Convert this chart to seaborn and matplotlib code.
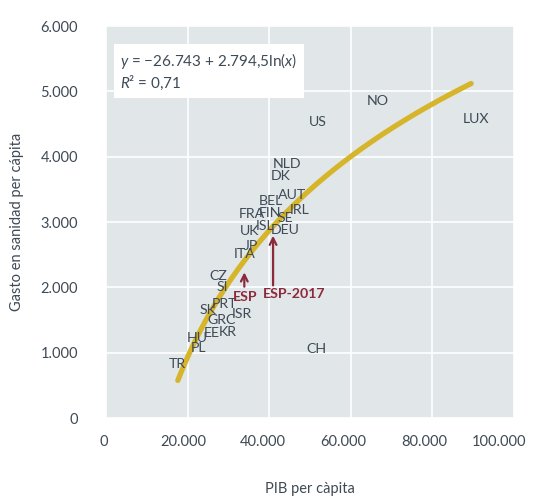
import numpy as np
import pandas as pd
import matplotlib
matplotlib.use("Agg")
import matplotlib.pyplot as plt
import matplotlib.transforms as mtrans
import seaborn as sns

# country labels (GDP per capita, health spending per capita)
countries = ["NO", "US", "LUX", "NLD", "DK", "AUT", "BEL", "IRL", "FRA", "FIN",
             "SE", "ISL", "UK", "DEU", "JP", "ITA", "CZ", "SI", "SK", "PRT",
             "ISR", "GRC", "EE", "KR", "HU", "PL", "TR", "CH"]
gdp = [66590, 51800, 90600, 44440, 42890, 45510, 40360, 47550, 35780, 40270,
       43950, 38890, 35290, 44040, 35460, 33990, 27610, 28430, 25080, 28990,
       33250, 28430, 25980, 29740, 22470, 22790, 17480, 51470]
health = [4857, 4531, 4581, 3888, 3709, 3418, 3326, 3184, 3127, 3142,
          3056, 2943, 2862, 2878, 2637, 2510, 2178, 2005, 1658, 1740,
          1597, 1505, 1301, 1321, 1220, 1067, 822, 1056]

# fitted log curve y = a + b ln(x)
fit_a = -26743
fit_b = 2794.5
fit_x = np.linspace(17600, 89500, 200)

# Spain markers: label position and arrow (start -> end)
esp_labels = ["ESP", "ESP-2017"]
esp_label_xy = [(34150, 1852), (46000, 1893)]
esp_arrow_from = [(33900, 2010), (40950, 2030)]
esp_arrow_to = [(33900, 2230), (40950, 2790)]

xticks = [0, 20000, 40000, 60000, 80000, 100000]
yticks = [0, 1000, 2000, 3000, 4000, 5000, 6000]

sns.set_theme(style="darkgrid")
font = ["Lato", "DejaVu Sans"]
plt.rcParams["font.family"] = font
plt.rcParams["mathtext.fontset"] = "custom"
plt.rcParams["mathtext.rm"] = "Lato"
plt.rcParams["mathtext.it"] = "Lato:italic"

txt = "#3e4a55"
red = "#8c2a3c"
bg = "#e1e6e9"
fs = 10.5

fig = plt.figure(figsize=(5.34, 4.96), dpi=100)
ax = fig.add_axes([106 / 534, 78 / 496, 408 / 534, 392 / 496])
ax.set_facecolor(bg)
ax.grid(True, color="white", linewidth=1.2)
for s in ax.spines.values():
    s.set_visible(False)

curve = pd.DataFrame({"x": fit_x, "y": fit_a + fit_b * np.log(fit_x)})
sns.lineplot(data=curve, x="x", y="y", ax=ax, color="#d7b52b", linewidth=3.8,
             solid_capstyle="round")

for c, x, y in zip(countries, gdp, health):
    ax.text(x, y, c, ha="center", va="center", fontsize=fs - 0.3, color=txt)

for lab, xy, a0, a1 in zip(esp_labels, esp_label_xy, esp_arrow_from, esp_arrow_to):
    ax.text(xy[0], xy[1], lab, ha="center", va="center", fontsize=fs - 0.3,
            color=red, fontweight="bold")
    ax.annotate("", xy=a1, xytext=a0,
                arrowprops=dict(arrowstyle="->", color=red, lw=1.6,
                                shrinkA=0, shrinkB=0))

ax.text(0.035, 0.935, "$y$ = \u221226.743 + 2.794,5ln($x$)\n$R$\u00b2 = 0,71",
        transform=ax.transAxes, ha="left", va="top", fontsize=fs + 0.5,
        color=txt, linespacing=1.15,
        bbox=dict(boxstyle="square,pad=0.4", facecolor="white", edgecolor="none"))

ax.set_xlim(0, 100000)
ax.set_ylim(0, 6000)
ax.set_xticks(xticks)
ax.set_yticks(yticks)
ax.set_xticklabels([f"{v:,}".replace(",", ".") for v in xticks])
ax.set_yticklabels([f"{v:,}".replace(",", ".") for v in yticks])
ax.tick_params(axis="x", colors=txt, labelsize=fs, length=0, pad=12)
ax.tick_params(axis="y", colors=txt, labelsize=fs, length=0, pad=20)
ax.set_xlabel("PIB per càpita", fontsize=fs, color=txt, labelpad=24)
ax.set_ylabel("Gasto en sanidad per cápita", fontsize=fs, color=txt, labelpad=12)

# the last x label sits a bit left of its gridline, as in the source
for lbl, dx in zip(ax.get_xticklabels(), [-2, -4, -6, -8, -8, -15]):
    lbl.set_transform(lbl.get_transform()
                      + mtrans.ScaledTranslation(dx / 100, 0, fig.dpi_scale_trans))

fig.savefig("out.png", dpi=100, facecolor="white")
